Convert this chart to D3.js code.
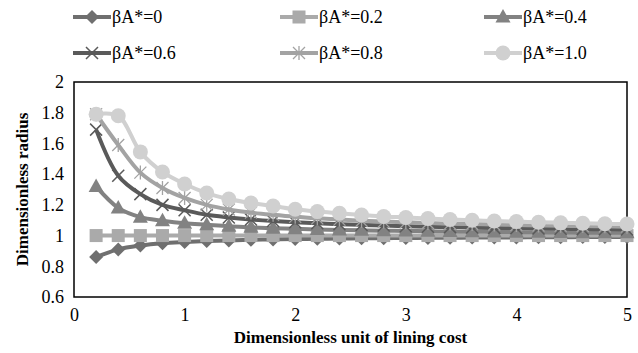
<!DOCTYPE html>
<html>
<head>
<meta charset="utf-8">
<script src="https://cdn.jsdelivr.net/npm/d3@7"></script>
<style>
  body { margin: 0; background: #fff; }
</style>
</head>
<body>
<svg id="chart" width="638" height="353" font-family="Liberation Serif"></svg>
<script>
// x values: dimensionless unit of lining cost
const costs = [0.2, 0.4, 0.6, 0.8, 1.0, 1.2, 1.4, 1.6, 1.8, 2.0, 2.2, 2.4, 2.6, 2.8, 3.0,
  3.2, 3.4, 3.6, 3.8, 4.0, 4.2, 4.4, 4.6, 4.8, 5.0];

// series values
const beta00 = [0.86, 0.91, 0.935, 0.95, 0.958, 0.964, 0.968, 0.972, 0.975, 0.977, 0.979, 0.981, 0.982,
  0.983, 0.984, 0.985, 0.986, 0.987, 0.988, 0.988, 0.989, 0.989, 0.99, 0.99, 0.991];
const beta02 = [1, 1, 1, 1, 1, 1, 1, 1, 1, 1, 1, 1, 1, 1, 1, 1, 1, 1, 1, 1, 1, 1, 1, 1, 1];
const beta04 = [1.32, 1.18, 1.12, 1.097, 1.08, 1.07, 1.06, 1.054, 1.048, 1.044, 1.04, 1.037, 1.034,
  1.032, 1.03, 1.028, 1.026, 1.025, 1.024, 1.022, 1.021, 1.02, 1.019, 1.018, 1.018];
const beta06 = [1.69, 1.39, 1.27, 1.2, 1.165, 1.135, 1.118, 1.105, 1.095, 1.087, 1.08, 1.074, 1.069,
  1.065, 1.061, 1.058, 1.055, 1.052, 1.05, 1.048, 1.046, 1.044, 1.042, 1.041, 1.04];
const beta08 = [1.79, 1.59, 1.41, 1.31, 1.245, 1.2, 1.17, 1.15, 1.135, 1.122, 1.112, 1.104, 1.097,
  1.091, 1.086, 1.082, 1.078, 1.075, 1.072, 1.069, 1.066, 1.064, 1.062, 1.06, 1.058];
const beta10 = [1.79, 1.78, 1.545, 1.414, 1.336, 1.277, 1.238, 1.212, 1.193, 1.171, 1.156, 1.145, 1.134,
  1.124, 1.118, 1.111, 1.105, 1.1, 1.095, 1.091, 1.087, 1.083, 1.08, 1.077, 1.075];

const seriesNames = ["βA*=0", "βA*=0.2", "βA*=0.4", "βA*=0.6", "βA*=0.8", "βA*=1.0"];
const seriesValues = [beta00, beta02, beta04, beta06, beta08, beta10];

const xTicks = [0, 1, 2, 3, 4, 5];
const yTicks = [0.6, 0.8, 1, 1.2, 1.4, 1.6, 1.8, 2];

// styles per series
const colors = ["#6f6f6f", "#aaaaaa", "#828282", "#5a5a5a", "#a3a3a3", "#d0d0d0"];
const markers = ["diamond", "square", "triangle", "cross", "star", "circle"];

const FONT = "Liberation Serif";

const svg = d3.select("#chart");
const margin = { left: 74, right: 11, top: 82, bottom: 56 };
const width = +svg.attr("width");
const height = +svg.attr("height");

const x = d3.scaleLinear().domain([0, 5]).range([margin.left, width - margin.right]);
const y = d3.scaleLinear().domain([0.6, 2]).range([height - margin.bottom, margin.top]);

// plot frame
svg.append("rect")
  .attr("x", x(0)).attr("y", y(2))
  .attr("width", x(5) - x(0)).attr("height", y(0.6) - y(2))
  .attr("fill", "none").attr("stroke", "#000").attr("stroke-width", 1.5);

// axes (labels only, frame drawn above)
const xAxis = svg.append("g")
  .attr("transform", `translate(0,${y(0.6)})`)
  .call(d3.axisBottom(x).tickValues(xTicks).tickSize(0).tickPadding(11).tickFormat(d3.format("d")));
xAxis.select(".domain").remove();
xAxis.attr("font-family", FONT).attr("font-size", 18);
xAxis.selectAll("text").attr("fill", "#000");

const yAxis = svg.append("g")
  .attr("transform", `translate(${x(0)},0)`)
  .call(d3.axisLeft(y).tickValues(yTicks).tickSize(0).tickPadding(10).tickFormat(d => String(+d.toFixed(1))));
yAxis.select(".domain").remove();
yAxis.attr("font-family", FONT).attr("font-size", 18);
yAxis.selectAll("text").attr("fill", "#000");

// axis titles
svg.append("text")
  .attr("x", (x(0) + x(5)) / 2).attr("y", 343)
  .attr("text-anchor", "middle")
  .attr("font-size", 17).attr("font-weight", "bold")
  .text("Dimensionless unit of lining cost");

svg.append("text")
  .attr("transform", `translate(28,${(y(0.6) + y(2)) / 2}) rotate(-90)`)
  .attr("text-anchor", "middle")
  .attr("font-size", 17).attr("font-weight", "bold")
  .text("Dimensionless radius");

// marker drawing
function drawMarker(g, type, color) {
  if (type === "diamond") {
    g.append("path").attr("d", "M0,-7L7,0L0,7L-7,0Z").attr("fill", color);
  } else if (type === "square") {
    g.append("rect").attr("x", -6.5).attr("y", -6.5).attr("width", 13).attr("height", 13).attr("fill", color);
  } else if (type === "triangle") {
    g.append("path").attr("d", "M0,-8L7.5,5.5L-7.5,5.5Z").attr("fill", color);
  } else if (type === "cross") {
    g.append("path").attr("d", "M-6,-6L6,6M-6,6L6,-6").attr("stroke", color).attr("stroke-width", 1.5);
  } else if (type === "star") {
    g.append("path").attr("d", "M-6,-6L6,6M-6,6L6,-6M0,-7L0,7").attr("stroke", color).attr("stroke-width", 1.3);
  } else {
    g.append("circle").attr("r", 7.5).attr("fill", color);
  }
}

const line = d3.line()
  .x((d, i) => x(costs[i]))
  .y(d => y(d))
  .curve(d3.curveCatmullRom.alpha(0.5));

seriesValues.forEach((vals, s) => {
  const g = svg.append("g").attr("class", "series");
  g.append("path")
    .datum(vals)
    .attr("d", line)
    .attr("fill", "none")
    .attr("stroke", colors[s])
    .attr("stroke-width", 4);
  g.selectAll("g.pt")
    .data(vals)
    .enter()
    .append("g")
    .attr("class", "pt")
    .attr("transform", (d, i) => `translate(${x(costs[i])},${y(d)})`)
    .each(function () { drawMarker(d3.select(this), markers[s], colors[s]); });
});

// legend: two rows of three
const legendCols = [73, 280, 484];
const legendRows = [17, 53];
seriesNames.forEach((name, s) => {
  const lx = legendCols[s % 3];
  const ly = legendRows[Math.floor(s / 3)];
  const g = svg.append("g").attr("transform", `translate(${lx},${ly})`);
  g.append("line").attr("x1", 0).attr("x2", 38).attr("y1", 0).attr("y2", 0)
    .attr("stroke", colors[s]).attr("stroke-width", 4);
  drawMarker(g.append("g").attr("transform", "translate(19,0)"), markers[s], colors[s]);
  g.append("text").attr("x", 39).attr("y", 6)
    .attr("font-size", 18).attr("fill", "#000")
    .text(name);
});
</script>
</body>
</html>
